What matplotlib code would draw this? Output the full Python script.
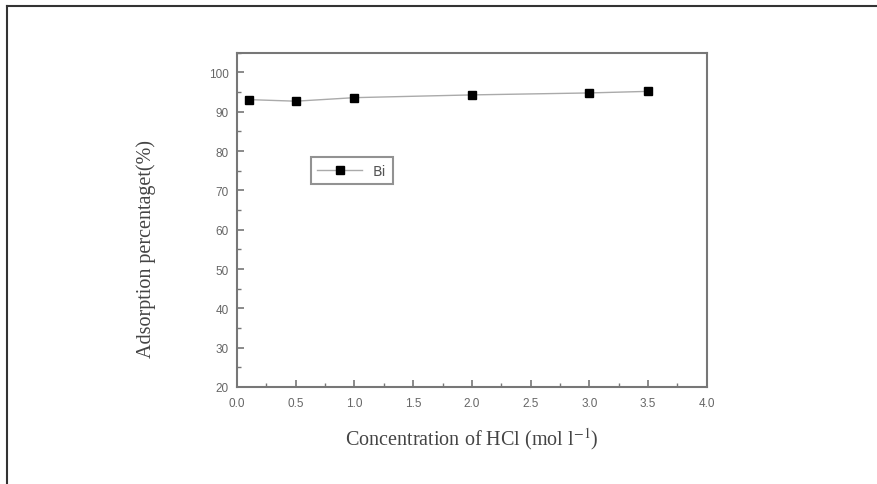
import matplotlib.pyplot as plt
from matplotlib.lines import Line2D
from matplotlib.ticker import MultipleLocator

# данные
conc = [0.1, 0.5, 1.0, 2.0, 3.0, 3.5]
adsorption = [93.1, 92.7, 93.6, 94.3, 94.8, 95.2]
series_name = 'Bi'

plt.rcParams['mathtext.fontset'] = 'stix'

fig = plt.figure(figsize=(8.78, 4.85), dpi=100)

# рамка вокруг рисунка (верх и лево)
fig.add_artist(Line2D([0.008, 1.0], [0.986, 0.986], color='#333333', lw=1.5))
fig.add_artist(Line2D([0.008, 0.008], [0.0, 0.986], color='#333333', lw=1.5))

ax = fig.add_axes([0.27, 0.2, 0.535, 0.689])
ax.plot(conc, adsorption, color='#aaaaaa', lw=1.0, marker='s',
        markersize=6, markerfacecolor='black', markeredgecolor='black',
        label=series_name)

ax.set_xlim(0, 4.0)
ax.set_ylim(20, 105)
ax.xaxis.set_major_locator(MultipleLocator(0.5))
ax.xaxis.set_minor_locator(MultipleLocator(0.25))
ax.yaxis.set_major_locator(MultipleLocator(10))
ax.yaxis.set_minor_locator(MultipleLocator(5))
ax.xaxis.set_major_formatter(plt.FuncFormatter(lambda v, p: f'{v:.1f}'))

for s in ax.spines.values():
    s.set_color('#777777')
    s.set_linewidth(1.5)
ax.tick_params(which='both', direction='in', colors='#777777',
               labelcolor='#666666', labelsize=8.5)
ax.tick_params(which='major', length=5, width=1.2)
ax.tick_params(which='minor', length=3, width=1.0)
ax.tick_params(axis='x', pad=7)
ax.tick_params(axis='y', pad=6)
for t in ax.get_xticklabels() + ax.get_yticklabels():
    t.set_family('Liberation Sans')

ax.set_xlabel('Concentration of HCl (mol l$^{\\mathrm{-1}}$)',
              family='Liberation Serif', fontsize=14.5, color='#444444',
              labelpad=12)
ax.set_ylabel('Adsorption percentaget(%)', family='Liberation Serif',
              fontsize=14.5, color='#444444')
ax.yaxis.set_label_coords(-0.172, 0.416)

leg = ax.legend(loc='upper left', bbox_to_anchor=(0.143, 0.708), fancybox=False,
                fontsize=10, handlelength=3.2, borderpad=0.45, handletextpad=0.8)
leg.get_frame().set_edgecolor('#777777')
leg.get_frame().set_linewidth(1.5)
for t in leg.get_texts():
    t.set_color('#555555')

fig.savefig('out.png', dpi=100)
